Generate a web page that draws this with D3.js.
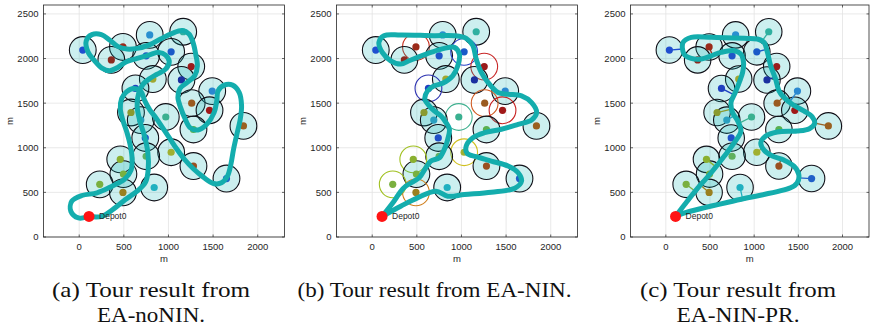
<!DOCTYPE html>
<html><head><meta charset="utf-8">
<script src="https://cdn.jsdelivr.net/npm/d3@7"></script>
<style>body{margin:0;background:#fff}svg{display:block}</style>
</head><body>
<svg id="chart" width="870" height="330"></svg>
<script>
// ---------- data ----------
const xTicks = [0, 500, 1000, 1500, 2000];
const yTicks = [0, 500, 1000, 1500, 2000, 2500];
const depot = [110, 230];
const depotLabel = "Depot0";
const axisLabel = "m";
const targetX = [40, 490, 360, 790, 1165, 750, 1030, 1255, 825, 1145, 630, 1490, 1260, 1460, 580, 970, 690, 1840, 1280, 740, 1030, 750, 460, 495, 1280, 1650, 230, 490, 840];
const targetY = [2095, 2130, 1985, 2265, 2300, 2030, 2075, 1910, 1770, 1760, 1665, 1635, 1500, 1420, 1395, 1345, 1310, 1245, 1205, 1110, 950, 905, 870, 705, 795, 655, 590, 500, 555];
const targetColor = ["#1f4fd0", "#9b2a1a", "#8b2a20", "#2a8fd0", "#2fb0a0", "#1f55c8", "#1a5ac8", "#9a1c1c", "#a0a830", "#1a30a0", "#2040c0", "#2a88d0", "#9a5a20", "#a01818", "#8a9a30", "#3ab090", "#2aa0c0", "#9a6020", "#5ab050", "#1f50c8", "#a0b030", "#60b060", "#8ab030", "#7ab040", "#9a5020", "#2060c8", "#7ab040", "#9a8020", "#20b0c0"];
// panel (b): circles not visited get a coloured outline only (null = visited)
const outlineB = [null, "#c83020", null, null, null, null, "#2a40c8", "#c82828", null, null, "#2a30b0", null, "#d05a20", "#c82020", null, "#40b090", null, null, null, null, "#d0c020", null, "#a0c020", null, null, null, "#a0c020", "#d08020", null];
const radius = 150;

const tourA = [[110,230],[-8,214],[-94,289],[-83,401],[30,465],[199,495],[368,570],[506,645],[581,750],[593,870],[574,1019],[536,1169],[491,1301],[461,1432],[476,1552],[529,1627],[611,1664],[694,1627],[735,1525],[791,1424],[866,1327],[941,1214],[1016,1102],[1091,989],[1174,877],[1279,765],[1391,671],[1504,600],[1594,607],[1661,682],[1699,813],[1729,982],[1766,1151],[1804,1319],[1819,1469],[1793,1619],[1718,1702],[1624,1702],[1556,1638],[1541,1525],[1511,1394],[1429,1263],[1331,1199],[1241,1226],[1181,1338],[1136,1450],[1106,1563],[1129,1664],[1211,1732],[1294,1807],[1324,1919],[1305,2050],[1275,2181],[1230,2275],[1155,2313],[1043,2283],[911,2219],[780,2151],[649,2114],[536,2106],[431,2136],[341,2208],[248,2268],[143,2268],[79,2200],[98,2076],[173,1975],[255,1893],[341,1863],[431,1900],[529,1964],[649,2001],[780,2039],[893,2069],[968,2039],[1009,1964],[968,1881],[874,1825],[791,1777],[716,1713],[668,1619],[649,1469],[679,1301],[731,1132],[769,944],[773,757],[743,615],[649,513],[518,420],[386,315],[255,232],[110,230]];
const tourB = [[110,230],[244,401],[320,513],[376,570],[470,626],[526,663],[601,776],[658,851],[752,888],[808,982],[846,1094],[865,1207],[827,1282],[771,1357],[695,1413],[639,1469],[590,1544],[620,1638],[695,1694],[789,1724],[902,1807],[959,1919],[977,2050],[921,2125],[808,2114],[658,2069],[507,2013],[413,1975],[320,1938],[207,1975],[113,2069],[75,2181],[132,2256],[320,2264],[695,2256],[921,2256],[1053,2226],[1128,2144],[1165,1994],[1222,1844],[1297,1732],[1410,1619],[1522,1600],[1673,1582],[1786,1507],[1842,1394],[1786,1312],[1635,1263],[1447,1207],[1259,1169],[1128,1113],[1053,1019],[1064,937],[1165,900],[1334,851],[1522,795],[1635,720],[1673,626],[1598,547],[1334,502],[1034,476],[846,457],[714,513],[507,439],[320,345],[110,230]];
const tourC = [[110,230],[213,364],[363,551],[513,720],[663,907],[775,1057],[850,1188],[813,1301],[756,1394],[738,1507],[786,1619],[831,1732],[869,1844],[880,1956],[850,2050],[775,2088],[625,2069],[513,2031],[401,1994],[288,2001],[206,2050],[195,2181],[288,2238],[513,2238],[888,2226],[1037,2219],[1112,2181],[1150,2069],[1187,1919],[1243,1769],[1281,1638],[1337,1563],[1431,1488],[1562,1413],[1655,1349],[1685,1274],[1625,1214],[1487,1188],[1262,1177],[1131,1132],[1075,1057],[1112,974],[1206,907],[1337,862],[1449,795],[1505,701],[1487,607],[1412,551],[888,431],[213,270],[110,230]];

const captions = [["(a) Tour result from", "EA-noNIN."], ["(b) Tour result from EA-NIN."], ["(c) Tour result from", "EA-NIN-PR."]];
const captionWidths = [[198, 108], [274], [196, 123]];

// ---------- layout ----------
const panels = [
  {x0: 43.5, x1: 284.5, cx: 151, tour: tourA, mode: "a"},
  {x0: 336.5, x1: 577.5, cx: 434.5, tour: tourB, mode: "b"},
  {x0: 630.5, x1: 869, cx: 738, tour: tourC, mode: "c"}
];
const yTop = 5, yBot = 237;
const svg = d3.select("#chart");
const font = "'Liberation Sans', Arial, Helvetica, sans-serif";
const ink = "#262626";

panels.forEach((p, pi) => {
  const x = d3.scaleLinear().domain([-400, 2300]).range([p.x0, p.x1]);
  const y = d3.scaleLinear().domain([0, 2600]).range([yBot, yTop]);
  const g = svg.append("g");
  const clipId = "clip" + pi;
  g.append("clipPath").attr("id", clipId).append("rect")
    .attr("x", p.x0).attr("y", yTop).attr("width", p.x1 - p.x0).attr("height", yBot - yTop);

  // grid
  g.append("g").selectAll("line").data(xTicks).join("line")
    .attr("x1", d => x(d)).attr("x2", d => x(d)).attr("y1", yTop).attr("y2", yBot)
    .attr("stroke", "#e3e3e3").attr("stroke-width", 0.8);
  g.append("g").selectAll("line").data(yTicks).join("line")
    .attr("y1", d => y(d)).attr("y2", d => y(d)).attr("x1", p.x0).attr("x2", p.x1)
    .attr("stroke", "#e3e3e3").attr("stroke-width", 0.8);

  const plot = g.append("g").attr("clip-path", `url(#${clipId})`);
  const idx = d3.range(targetX.length);
  const rpx = x(radius) - x(0);

  // circles
  plot.append("g").selectAll("circle").data(idx).join("circle")
    .attr("cx", i => x(targetX[i])).attr("cy", i => y(targetY[i])).attr("r", rpx)
    .attr("fill", i => (p.mode === "b" && outlineB[i]) ? "none" : "rgba(0,175,175,0.2)")
    .attr("stroke", i => (p.mode === "b" && outlineB[i]) ? outlineB[i] : "#101018")
    .attr("stroke-width", 1.1);

  // tour path
  const line = d3.line().x(d => x(d[0])).y(d => y(d[1])).curve(d3.curveCatmullRom.alpha(0.5));
  const connG = plot.append("g");
  const dotG = plot.append("g");
  dotG.selectAll("circle").data(idx).join("circle")
    .attr("cx", i => x(targetX[i])).attr("cy", i => y(targetY[i])).attr("r", 3.6)
    .attr("fill", i => targetColor[i]);
  const path = plot.append("path").attr("d", line(p.tour))
    .attr("fill", "none").attr("stroke", "#14adad").attr("stroke-width", 5)
    .attr("stroke-linejoin", "round").attr("stroke-linecap", "round");

  // panel (c): link each target to its nearest point on the tour
  if (p.mode === "c") {
    const node = path.node();
    const L = node.getTotalLength();
    const samples = d3.range(0, L, 1).map(l => node.getPointAtLength(l));
    idx.forEach(i => {
      const cx = x(targetX[i]), cy = y(targetY[i]);
      let best = samples[0], bd = Infinity;
      samples.forEach(s => { const d = (s.x - cx) ** 2 + (s.y - cy) ** 2; if (d < bd) { bd = d; best = s; } });
      connG.append("line").attr("x1", cx).attr("y1", cy).attr("x2", best.x).attr("y2", best.y)
        .attr("stroke", targetColor[i]).attr("stroke-width", 1.3);
    });
  }

  // depot
  g.append("circle").attr("cx", x(depot[0])).attr("cy", y(depot[1])).attr("r", 5.5).attr("fill", "#ff1414");
  g.append("text").attr("x", x(depot[0]) + 10).attr("y", y(depot[1]) + 3)
    .attr("font-family", font).attr("font-size", 8.5).attr("fill", ink).text(depotLabel);

  // box and ticks
  g.append("rect").attr("x", p.x0).attr("y", yTop).attr("width", p.x1 - p.x0).attr("height", yBot - yTop)
    .attr("fill", "none").attr("stroke", ink).attr("stroke-width", 0.8);
  const tk = g.append("g").attr("stroke", ink).attr("stroke-width", 0.7);
  xTicks.forEach(t => {
    tk.append("line").attr("x1", x(t)).attr("x2", x(t)).attr("y1", yBot).attr("y2", yBot - 2.5);
    tk.append("line").attr("x1", x(t)).attr("x2", x(t)).attr("y1", yTop).attr("y2", yTop + 2.5);
  });
  yTicks.forEach(t => {
    tk.append("line").attr("y1", y(t)).attr("y2", y(t)).attr("x1", p.x0).attr("x2", p.x0 + 2.5);
    tk.append("line").attr("y1", y(t)).attr("y2", y(t)).attr("x1", p.x1).attr("x2", p.x1 - 2.5);
  });
  g.append("g").selectAll("text").data(xTicks).join("text")
    .attr("x", d => x(d)).attr("y", yBot + 13).attr("text-anchor", "middle")
    .attr("font-family", font).attr("font-size", 9.5).attr("fill", ink).text(d => d);
  g.append("g").selectAll("text").data(yTicks).join("text")
    .attr("x", p.x0 - 5).attr("y", d => y(d) + 3.4).attr("text-anchor", "end")
    .attr("font-family", font).attr("font-size", 9.5).attr("fill", ink).text(d => d);
  g.append("text").attr("x", (p.x0 + p.x1) / 2).attr("y", yBot + 25).attr("text-anchor", "middle")
    .attr("font-family", font).attr("font-size", 9.5).attr("fill", ink).text(axisLabel);
  g.append("text").attr("transform", `translate(${p.x0 - 31},${(yTop + yBot) / 2}) rotate(-90)`)
    .attr("text-anchor", "middle").attr("font-family", font).attr("font-size", 9.5).attr("fill", ink).text(axisLabel);

  // caption
  captions[pi].forEach((c, li) => {
    g.append("text").attr("x", p.cx).attr("y", 297 + li * 25).attr("text-anchor", "middle")
      .attr("font-family", "'Liberation Serif', 'DejaVu Serif', serif").attr("font-size", 21)
      .attr("textLength", captionWidths[pi][li]).attr("lengthAdjust", "spacingAndGlyphs")
      .attr("fill", "#111").text(c);
  });
});
</script>
</body></html>
